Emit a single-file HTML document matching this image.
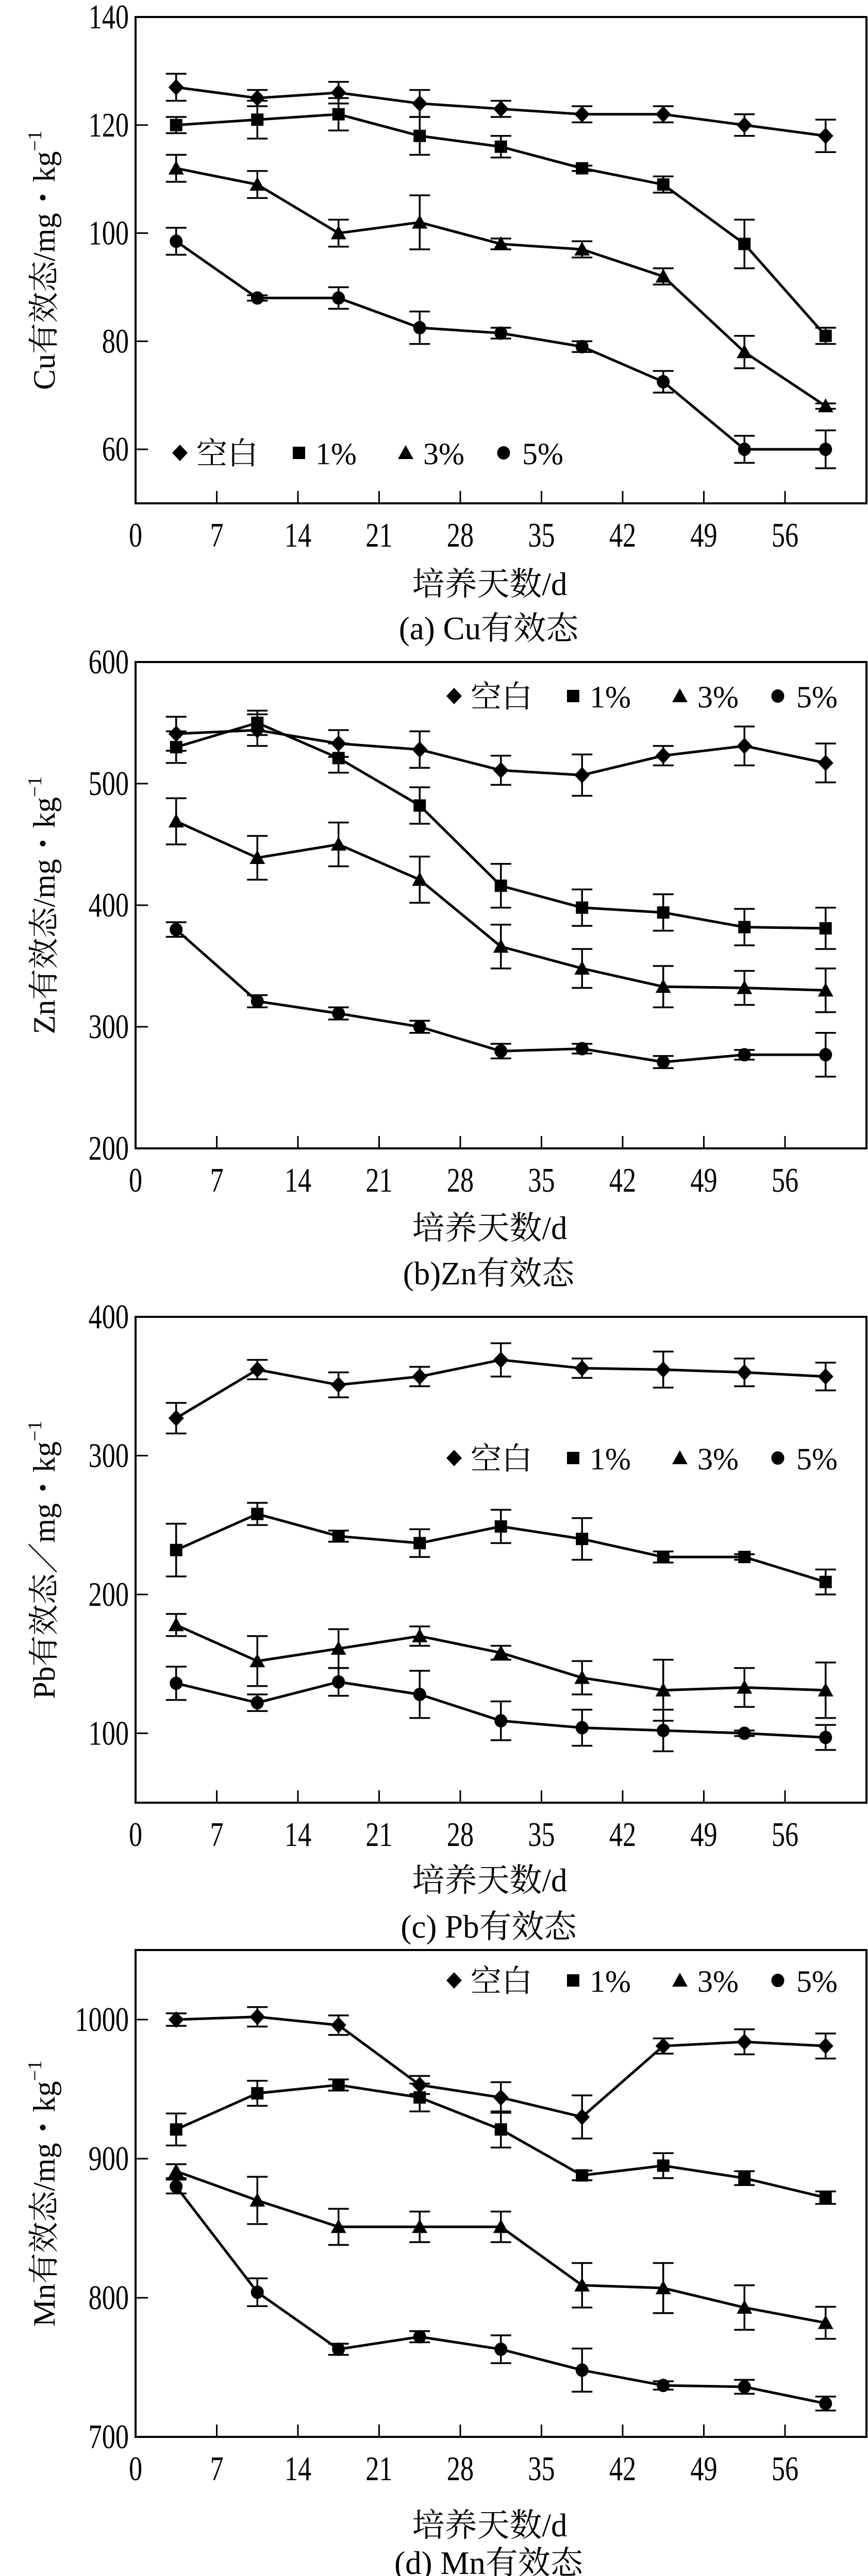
<!DOCTYPE html>
<html><head><meta charset="utf-8"><style>
html,body{margin:0;padding:0;background:#fff;overflow:hidden;width:1684px;height:5026px;}
svg{display:block;}
text{font-family:"Liberation Serif","Noto Serif CJK SC","Noto Sans CJK SC",serif;fill:#000;}
</style></head><body>
<svg id="fig" width="1684" height="5026" viewBox="0 0 1684 5026" xmlns="http://www.w3.org/2000/svg" overflow="hidden"></svg>
<script>
// ---- shared x data ----
const days = [3.5, 10.5, 17.5, 24.5, 31.5, 38.5, 45.5, 52.5, 59.5];
const xTicks = [0, 7, 14, 21, 28, 35, 42, 49, 56];
const seriesNames = ['空白', '1%', '3%', '5%'];

// ---- (a) Cu ----
const cuBlank = [127, 125, 126, 124, 123, 122, 122, 120, 118];
const cuBlankErr = [2.5, 1.5, 2, 2.5, 1.5, 1.5, 1.5, 2, 3];
const cu1 = [120, 121, 122, 118, 116, 112, 109, 98, 81];
const cu1Err = [1.5, 3.5, 3, 3.5, 2, 0.5, 1.5, 4.5, 1.5];
const cu3 = [112, 109, 100, 102, 98, 97, 92, 78, 68];
const cu3Err = [2.5, 2.5, 2.5, 5, 1, 1.5, 1.5, 3, 0.5];
const cu5 = [98.5, 88, 88, 82.5, 81.5, 79, 72.5, 60, 60];
const cu5Err = [2.5, 0.5, 2, 3, 1, 1, 2, 2.5, 3.5];
const cuTicks = [60, 80, 100, 120, 140];

// ---- (b) Zn ----
const znBlank = [541, 544, 533, 528, 511, 507, 523, 531, 517];
const znBlankErr = [14, 13, 11, 15, 12, 17, 8, 16, 16];
const zn1 = [530, 550, 521, 482, 416, 398, 394, 382, 381];
const zn1Err = [13, 10, 12, 15, 18, 15, 15, 15, 17];
const zn3 = [469, 439, 450, 421, 366, 348, 333, 332, 330];
const zn3Err = [19, 18, 18, 19, 18, 16, 17, 14, 18];
const zn5 = [380, 321, 311, 300, 280, 282, 271, 277, 277];
const zn5Err = [6, 5, 5, 5, 6, 4, 5, 4, 18];
const znTicks = [200, 300, 400, 500, 600];

// ---- (c) Pb ----
const pbBlank = [327, 362, 351, 357, 369, 363, 362, 360, 357];
const pbBlankErr = [11, 7, 9, 7, 12, 7, 13, 10, 10];
const pb1 = [232, 258, 242, 237, 249, 240, 227, 227, 209];
const pb1Err = [19, 8, 4, 10, 12, 15, 4, 2, 9];
const pb3 = [178, 152, 161, 170, 158, 140, 131, 133, 131];
const pb3Err = [8, 18, 14, 7, 5, 12, 22, 14, 20];
const pb5 = [136, 122, 137, 128, 109, 104, 102, 100, 97];
const pb5Err = [12, 6, 10, 17, 14, 13, 15, 2, 9];
const pbTicks = [100, 200, 300, 400];

// ---- (d) Mn ----
const mnBlank = [1000, 1002, 996, 953, 944, 930, 981, 984, 981];
const mnBlankErr = [4.5, 7, 7, 6.5, 11, 15.5, 5.5, 9, 9];
const mn1 = [921, 947, 953, 944, 921, 888, 895, 886, 872];
const mn1Err = [11.5, 9, 4, 10, 13, 3.5, 9, 5, 4.5];
const mn3 = [891, 870, 851, 851, 851, 809, 807, 793, 782];
const mn3Err = [5, 17, 13, 11, 11, 16, 18, 16, 11.5];
const mn5 = [880, 804, 763, 772, 763, 748, 737, 736, 724];
const mn5Err = [5, 10, 4, 4, 10, 15.5, 3, 5, 5];
const mnTicks = [700, 800, 900, 1000];

const NS = 'http://www.w3.org/2000/svg';
const svg = document.getElementById('fig');
function mk(tag, attrs, parent) {
  const e = document.createElementNS(NS, tag);
  for (const k in attrs) e.setAttribute(k, attrs[k]);
  (parent || svg).appendChild(e);
  return e;
}
const PL = 263, PR = 1681;
function xScale(d) { return PL + d * 22.5; }

function marker(g, kind, cx, cy) {
  let m;
  if (kind === 0) m = mk('polygon', {points: `${cx},${cy-16} ${cx+15},${cy} ${cx},${cy+16} ${cx-15},${cy}`}, g);
  else if (kind === 1) m = mk('rect', {x: cx-12, y: cy-12, width: 24, height: 24}, g);
  else if (kind === 2) m = mk('polygon', {points: `${cx},${cy-15} ${cx+15},${cy+12} ${cx-15},${cy+12}`}, g);
  else m = mk('ellipse', {cx: cx, cy: cy, rx: 12.5, ry: 13}, g);
  m.setAttribute('fill', '#000');
  return m;
}

function chart(key, top, bottom, ymin, ymax, yTicks, series, errs, ylabel, caption, legendX, legendY, titleOff, capOff) {
  const g = mk('g', {});
  
  
  const yScale = v => bottom - (v - ymin) / (ymax - ymin) * (bottom - top);
  const frame = mk('rect', {x: PL, y: top, width: PR - PL, height: bottom - top, fill: 'none', stroke: '#000', 'stroke-width': 4}, g);
  
  
  yTicks.forEach(t => {
    const y = yScale(t);
    if (t > ymin && t < ymax) mk('line', {x1: PL, y1: y, x2: PL + 24, y2: y, stroke: '#000', 'stroke-width': 3}, g);
    const lb = mk('text', {x: 0, y: 0, 'font-size': 67, 'text-anchor': 'end', transform: `translate(250,${y + 22}) scale(0.78,1)`}, g);
    lb.textContent = t;
    
    
  });
  xTicks.forEach(t => {
    const x = xScale(t);
    if (t > 0) mk('line', {x1: x, y1: bottom, x2: x, y2: bottom - 24, stroke: '#000', 'stroke-width': 3}, g);
    const lb = mk('text', {x: 0, y: 0, 'font-size': 67, 'text-anchor': 'middle', transform: `translate(${x},${bottom + 84}) scale(0.78,1)`}, g);
    lb.textContent = t;
    
    
  });
  series.forEach((vals, si) => {
    const sg = mk('g', {}, g);
    
    
    const pts = vals.map((v, i) => xScale(days[i]) + ',' + yScale(v)).join(' ');
    mk('polyline', {points: pts, fill: 'none', stroke: '#000', 'stroke-width': 5}, sg);
    vals.forEach((v, i) => {
      const x = xScale(days[i]);
      const e = errs[si][i];
      const y1 = yScale(v + e), y2 = yScale(v - e);
      mk('line', {x1: x, y1: y1, x2: x, y2: y2, stroke: '#000', 'stroke-width': 3.5}, sg);
      mk('line', {x1: x - 20, y1: y1, x2: x + 20, y2: y1, stroke: '#000', 'stroke-width': 3.5}, sg);
      mk('line', {x1: x - 20, y1: y2, x2: x + 20, y2: y2, stroke: '#000', 'stroke-width': 3.5}, sg);
      const m = marker(sg, si, x, yScale(v));
      
      
    });
  });
  const lg = mk('g', {}, g);
  
  
  const offs = [[0, 32], [231, 263], [438, 472], [628, 664]];
  seriesNames.forEach((n, i) => {
    marker(lg, i, legendX + offs[i][0], legendY);
    const t = mk('text', {x: legendX + offs[i][1], y: legendY + 22, 'font-size': 60}, lg);
    t.textContent = n;
    
    
  });
  const cy = (top + bottom) / 2;
  const yl = mk('text', {x: 0, y: 0, 'font-size': 60, 'text-anchor': 'middle', transform: `translate(106,${cy}) rotate(-90)`}, g);
  yl.textContent = ylabel;
  const sup = mk('tspan', {'font-size': 38, dy: -26}, yl);
  sup.textContent = '−1';
  
  
  const xl = mk('text', {x: 950, y: bottom + titleOff, 'font-size': 63, 'text-anchor': 'middle'}, g);
  xl.textContent = '培养天数/d';
  
  
  const cp = mk('text', {x: 948, y: bottom + capOff, 'font-size': 63, 'text-anchor': 'middle'}, g);
  cp.textContent = caption;
  
  
}

chart('cu', 33, 977, 50, 140, cuTicks, [cuBlank, cu1, cu3, cu5], [cuBlankErr, cu1Err, cu3Err, cu5Err], 'Cu有效态/mg・kg', '(a) Cu有效态', 349, 879, 178, 264);
chart('zn', 1285, 2229, 200, 600, znTicks, [znBlank, zn1, zn3, zn5], [znBlankErr, zn1Err, zn3Err, zn5Err], 'Zn有效态/mg・kg', '(b)Zn有效态', 881, 1351, 176, 264);
chart('pb', 2556, 3499, 50, 400, pbTicks, [pbBlank, pb1, pb3, pb5], [pbBlankErr, pb1Err, pb3Err, pb5Err], 'Pb有效态／mg・kg', '(c) Pb有效态', 881, 2830, 172, 262);
chart('mn', 3785, 4730, 700, 1050, mnTicks, [mnBlank, mn1, mn3, mn5], [mnBlankErr, mn1Err, mn3Err, mn5Err], 'Mn有效态/mg・kg', '(d) Mn有效态', 881, 3844, 193, 266);
</script>
</body></html>
